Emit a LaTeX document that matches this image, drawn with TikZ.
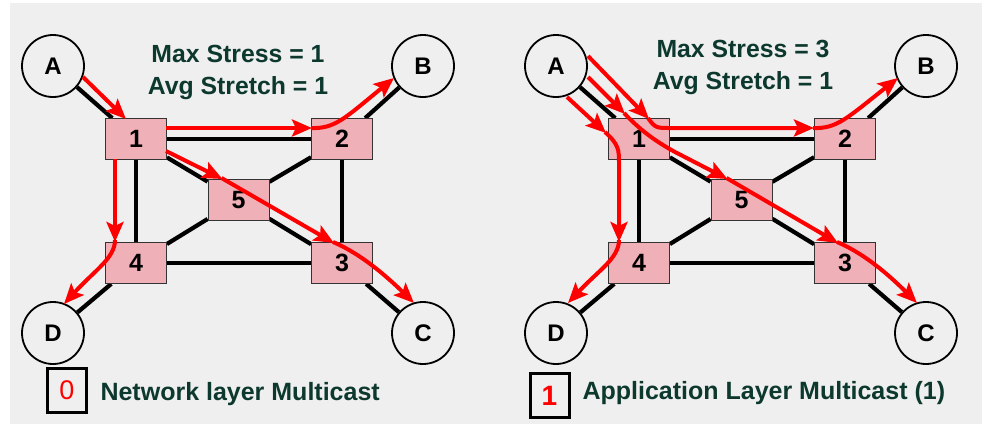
\documentclass[tikz,border=0pt]{standalone}
\usepackage{fontspec}
\setmainfont{Liberation Sans}
\usetikzlibrary{arrows.meta,calc}

\definecolor{paper}{RGB}{239,239,239}
\definecolor{router}{RGB}{240,176,184}
\definecolor{caption}{RGB}{12,56,46}
\definecolor{flow}{RGB}{255,0,0}

\pgfdeclarelayer{paperlayer}
\pgfdeclarelayer{links}
\pgfsetlayers{paperlayer,links,main}

\tikzset{
  host/.style={circle,draw=black,line width=1.8pt,fill=paper,minimum size=62pt,inner sep=0pt,
               font=\fontsize{24}{28}\selectfont\bfseries},
  router/.style={rectangle,draw=black!80,line width=0.8pt,fill=router,minimum width=61pt,
               minimum height=41pt,inner sep=0pt,font=\fontsize{25}{29}\selectfont\bfseries},
  link/.style={line width=4.2pt,black},
  flowpath/.style={draw=flow,line width=4pt,-{Stealth[length=20pt,width=17pt,inset=4pt]}},
  headline/.style={anchor=base,text=caption,font=\fontsize{24.8}{30}\selectfont\bfseries},
  legend/.style={anchor=base west,text=caption,font=\fontsize{25}{30}\selectfont\bfseries},
  tag/.style={rectangle,draw=black,line width=3pt,minimum width=39pt,minimum height=44pt,
              inner sep=0pt,text=flow}
}

% the eight-node network: hosts A-D around routers 1-5
\newcommand\netgraph{%
  \node[host] (A) at (53,66) {A};
  \node[host] (B) at (423,66) {B};
  \node[host] (C) at (423,333) {C};
  \node[host] (D) at (53,333) {D};
  \node[router] (1) at (136,139) {1};
  \node[router] (2) at (342,139) {2};
  \node[router] (5) at (238.5,200) {5};
  \node[router] (4) at (136,263) {4};
  \node[router] (3) at (342,263) {3};
  \begin{pgfonlayer}{links}
    \draw[link] (A) -- (1) (B) -- (2) (C) -- (3) (D) -- (4);
    \draw[link] (1) -- (2) -- (3) -- (4) -- (1);
    \draw[link] (1) -- (5) (2) -- (5) (3) -- (5) (4) -- (5);
  \end{pgfonlayer}
}

\begin{document}
\begin{tikzpicture}[x=1pt,y=-1pt]
\useasboundingbox (0,0) rectangle (987,424);
\begin{pgfonlayer}{paperlayer}
  \fill[white] (0,0) rectangle (987,424);
  \fill[paper] (10,3) rectangle (982,424);
\end{pgfonlayer}

% ---- network layer multicast ----
\begin{scope}[name prefix=L-]
  \netgraph
  \node[headline] (s) at (238,62) {Max Stress = 1};
  \node[headline] (t) at (238,94) {Avg Stretch = 1};
  \node[tag,font=\fontsize{27}{30}\selectfont] (k) at (67,390.5) {0};
  \node[legend] (cap) at (97,400) {Network layer Multicast};

  \draw[flowpath] ($(A)+(30,11)$) -- ($(1)+(-10,-20)$);
  \draw[flowpath] ($(1)+(30,-11)$) -- ($(2)+(-30,-11)$);
  \draw[flowpath] ($(2)+(-31,-11)$) .. controls ($(2)+(-7,-10)$) and ($(2)+(3,-21)$) .. ($(B)+(-29,12)$);
  \draw[flowpath] ($(1)+(30,12)$) -- ($(5)+(-16,-21)$);
  \draw[flowpath] ($(5)+(-17,-22)$) -- ($(3)+(-8,-20)$);
  \draw[flowpath] ($(3)+(-9,-21)$) .. controls ($(3)+(10,-13)$) and ($(3)+(33,2)$) .. ($(C)+(-9,-30)$);
  \draw[flowpath] ($(1)+(-21,20)$) -- ($(4)+(-21,-21)$);
  \draw[flowpath] ($(4)+(-21,-23)$) .. controls ($(4)+(-21,-5)$) and ($(4)+(-41,7)$) .. ($(D)+(11,-29)$);
\end{scope}

% ---- application layer multicast ----
\begin{scope}[shift={(503,0)},name prefix=R-]
  \netgraph
  \node[headline] (s) at (240,57) {Max Stress = 3};
  \node[headline] (t) at (240,89) {Avg Stretch = 1};
  \node[tag,font=\fontsize{28}{30}\selectfont\bfseries] (k) at (46.5,395.5) {1};
  \node[legend] (cap) at (76,399) {Application Layer Multicast (1)};

  % A -> 2 -> B
  \draw[flowpath] ($(A)+(32,-10)$) -- ($(1)+(10,-20)$);
  \draw[flowpath] ($(1)+(9,-21)$) .. controls ($(1)+(16,-11)$) and ($(1)+(18,-11)$) .. ($(1)+(30,-11)$)
                  -- ($(2)+(-31,-11)$);
  \draw[flowpath] ($(2)+(-32,-11)$) .. controls ($(2)+(-8,-10)$) and ($(2)+(2,-21)$) .. ($(B)+(-28,12)$);
  % A -> 5 -> 3 -> C
  \draw[flowpath] ($(A)+(32,11)$) -- ($(1)+(-14,-25)$);
  \draw[flowpath] ($(1)+(-15,-26)$) .. controls ($(1)+(1,-9)$) and ($(1)+(16,2)$) .. ($(1)+(36,13)$)
                  -- ($(5)+(-14,-21)$);
  \draw[flowpath] ($(5)+(-15,-22)$) -- ($(3)+(-7,-20)$);
  \draw[flowpath] ($(3)+(-8,-21)$) .. controls ($(3)+(11,-13)$) and ($(3)+(34,2)$) .. ($(C)+(-9,-30)$);
  % A -> 4 -> D
  \draw[flowpath] ($(A)+(11,31)$) -- ($(1)+(-33,-6)$);
  \draw[flowpath] ($(1)+(-34,-7)$) .. controls ($(1)+(-20,6)$) and ($(1)+(-20,10)$) .. ($(1)+(-20,26)$)
                  -- ($(4)+(-20,-21)$);
  \draw[flowpath] ($(4)+(-20,-23)$) .. controls ($(4)+(-20,-5)$) and ($(4)+(-40,7)$) .. ($(D)+(12,-30)$);
\end{scope}
\end{tikzpicture}
\end{document}
